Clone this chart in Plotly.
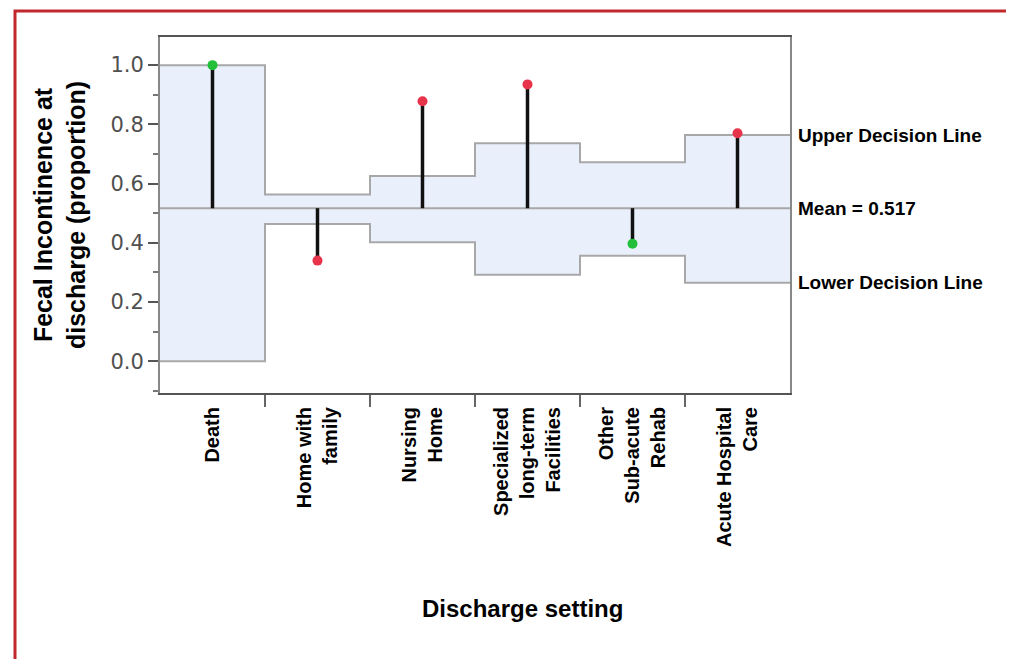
import plotly.graph_objects as go

categories = ["Death", "Home with<br>family", "Nursing<br>Home",
              "Specialized<br>long-term<br>Facilities", "Other<br>Sub-acute<br>Rehab",
              "Acute Hospital<br>Care"]
proportion = [1.0, 0.34, 0.878, 0.935, 0.397, 0.77]
upper_limit = [1.0, 0.563, 0.626, 0.736, 0.672, 0.764]
lower_limit = [0.0, 0.464, 0.402, 0.292, 0.356, 0.265]
point_colors = ["#22c03a", "#e8344a", "#e8344a", "#e8344a", "#22c03a", "#e8344a"]
mean_value = 0.517
y_ticks = [0.0, 0.2, 0.4, 0.6, 0.8, 1.0]

n = len(categories)
xs = list(range(n))
edges = [i - 0.5 for i in range(n + 1)]

fig = go.Figure()

band_color = "rgba(225,233,250,0.75)"
line_gray = "#a8a8a8"

fig.add_trace(go.Scatter(x=edges, y=lower_limit + [lower_limit[-1]], mode="lines",
                         line=dict(shape="hv", color=line_gray, width=2),
                         hoverinfo="skip", showlegend=False))
fig.add_trace(go.Scatter(x=edges, y=upper_limit + [upper_limit[-1]], mode="lines",
                         line=dict(shape="hv", color=line_gray, width=2),
                         fill="tonexty", fillcolor=band_color,
                         hoverinfo="skip", showlegend=False))
fig.add_trace(go.Scatter(x=[edges[0], edges[-1]], y=[mean_value, mean_value], mode="lines",
                         line=dict(color=line_gray, width=2), hoverinfo="skip", showlegend=False))

nx, ny = [], []
for x, v in zip(xs, proportion):
    nx += [x, x, None]
    ny += [mean_value, v, None]
fig.add_trace(go.Scatter(x=nx, y=ny, mode="lines", line=dict(color="#111111", width=3.5),
                         hoverinfo="skip", showlegend=False))

fig.add_trace(go.Scatter(x=xs, y=proportion, mode="markers",
                         marker=dict(color=point_colors, size=10, line=dict(width=0)),
                         showlegend=False))

font_main = "Liberation Sans, Arial, Helvetica, sans-serif"

W, H = 1006, 651
L, R, T, B = 152, 782, 29, 385

fig.update_layout(
    width=W, height=H,
    margin=dict(l=L, r=W - R, t=T, b=H - B, autoexpand=False),
    paper_bgcolor="white", plot_bgcolor="white",
    font=dict(family=font_main, color="#000"),
    xaxis=dict(
        range=[edges[0], edges[-1]],
        tickmode="array", tickvals=xs, ticktext=["<b>%s</b>" % c for c in categories],
        tickangle=-90, ticks="", ticklen=0, ticklabelstandoff=4,
        tickfont=dict(size=20, color="#000", family=font_main),
        showline=True, linecolor="#555", linewidth=2, mirror=True,
        showgrid=False, zeroline=False,
        minor=dict(tickmode="array", tickvals=edges[1:-1], ticks="outside", ticklen=12,
                   tickwidth=2, tickcolor="#666", showgrid=False),
    ),
    yaxis=dict(
        range=[-0.107, 1.095],
        tickmode="array", tickvals=y_ticks, ticktext=["%.1f" % t for t in y_ticks],
        ticks="outside", ticklen=10, tickwidth=2, tickcolor="#555",
        tickfont=dict(size=21, color="#505050", family="DejaVu Sans, Verdana, sans-serif"),
        showline=True, linecolor="#888", linewidth=2, mirror=True,
        showgrid=False, zeroline=False,
        minor=dict(tick0=0.1, dtick=0.2, ticks="outside", ticklen=5, tickwidth=2,
                   tickcolor="#777", showgrid=False),
        title=dict(text="<b>Fecal Incontinence at<br>discharge (proportion)</b>",
                   font=dict(size=25, color="#000"), standoff=18),
    ),
)

# x-axis title (offset right of centre as in the original)
fig.add_annotation(x=(514 - L) / (R - L), xref="paper", y=(B - 600) / (B - T), yref="paper",
                   text="<b>Discharge setting</b>", showarrow=False,
                   xanchor="center", yanchor="middle",
                   font=dict(size=24, color="#000", family=font_main))

labels = [("Upper Decision Line", upper_limit[-1]),
          ("Mean = %.3f" % mean_value, mean_value),
          ("Lower Decision Line", lower_limit[-1])]
for text, yv in labels:
    fig.add_annotation(x=1.0, xref="paper", y=yv, yref="y", text="<b>%s</b>" % text,
                       showarrow=False, xanchor="left", xshift=6,
                       font=dict(size=19, color="#000", family=font_main))

fig.add_shape(type="rect", xref="paper", yref="paper",
              x0=(7 - L) / (R - L), x1=(1003 - L) / (R - L),
              y0=(B - 680) / (B - T), y1=(B - 3) / (B - T),
              line=dict(color="#c0282d", width=3), layer="below")

fig.write_html("out.html")
